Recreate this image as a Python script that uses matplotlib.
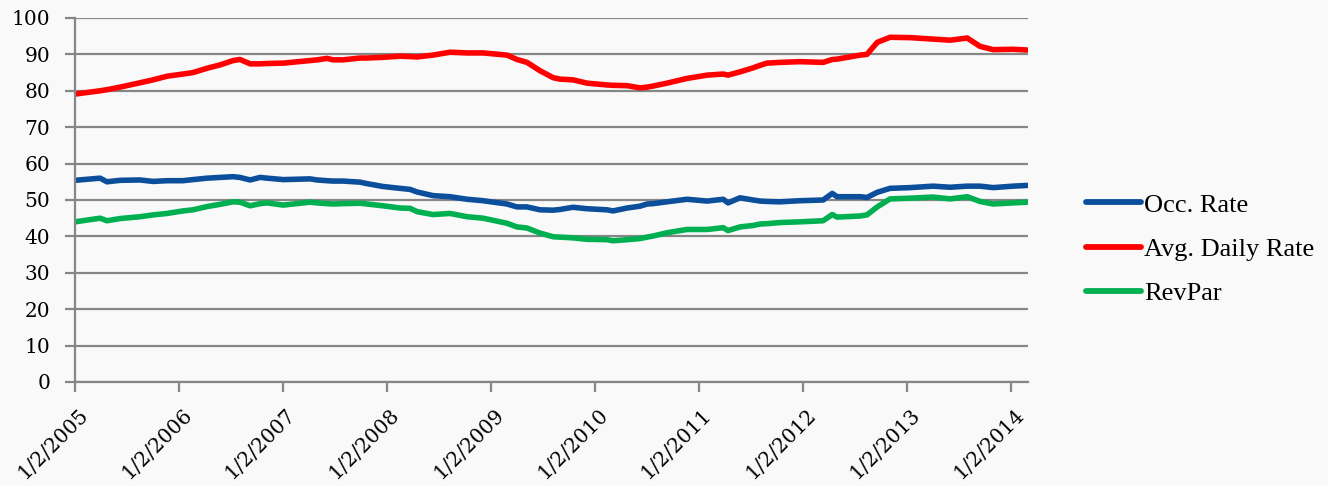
import pandas as pd
import matplotlib.pyplot as plt
import matplotlib.transforms as mtransforms

# 每周数据（约），三个指标
dates = ['2005-01-02', '2005-03-31', '2005-04-24', '2005-06-09', '2005-08-18', '2005-10-03',
         '2005-11-21', '2006-01-16', '2006-02-20', '2006-04-11', '2006-05-26', '2006-07-11',
         '2006-08-04', '2006-09-09', '2006-10-14', '2006-11-07', '2007-01-03', '2007-04-07',
         '2007-05-02', '2007-06-06', '2007-06-27', '2007-08-01', '2007-09-30', '2007-10-24',
         '2007-12-20', '2008-02-17', '2008-03-24', '2008-04-17', '2008-06-12', '2008-08-11',
         '2008-10-10', '2008-12-05', '2009-02-27', '2009-04-03', '2009-05-08', '2009-06-23',
         '2009-08-08', '2009-09-01', '2009-10-17', '2009-12-05', '2010-02-13', '2010-03-06',
         '2010-04-25', '2010-06-09', '2010-07-04', '2010-07-25', '2010-09-12', '2010-11-21',
         '2011-01-31', '2011-03-28', '2011-04-14', '2011-05-26', '2011-07-11', '2011-08-05',
         '2011-08-29', '2011-10-14', '2011-12-23', '2012-03-13', '2012-04-14', '2012-05-01',
         '2012-07-21', '2012-08-14', '2012-09-19', '2012-11-03', '2013-01-13', '2013-04-03',
         '2013-06-02', '2013-08-01', '2013-09-15', '2013-10-31', '2014-01-09', '2014-02-27']

adr = [79.1, 80.0, 80.3, 81.0, 82.2, 83.0, 84.0, 84.6, 85.0, 86.2, 87.1, 88.3,
       88.6, 87.4, 87.4, 87.5, 87.6, 88.3, 88.5, 88.9, 88.5, 88.5, 89.0, 89.0,
       89.2, 89.5, 89.4, 89.3, 89.8, 90.6, 90.4, 90.4, 89.8, 88.6, 87.8, 85.5,
       83.6, 83.2, 83.0, 82.1, 81.6, 81.5, 81.4, 80.8, 81.0, 81.3, 82.1, 83.4,
       84.3, 84.6, 84.3, 85.2, 86.3, 87.0, 87.6, 87.8, 88.0, 87.8, 88.6, 88.7,
       89.8, 90.0, 93.3, 94.7, 94.6, 94.2, 93.9, 94.5, 92.2, 91.3, 91.4, 91.2]

occ = [55.4, 56.0, 55.0, 55.4, 55.5, 55.1, 55.3, 55.3, 55.6, 56.0, 56.2, 56.4,
       56.2, 55.5, 56.2, 56.0, 55.6, 55.8, 55.5, 55.3, 55.2, 55.2, 54.9, 54.5,
       53.7, 53.2, 52.9, 52.2, 51.2, 50.9, 50.2, 49.8, 48.9, 48.1, 48.1, 47.3,
       47.2, 47.4, 48.0, 47.6, 47.3, 47.0, 47.8, 48.3, 48.9, 49.0, 49.5, 50.2,
       49.7, 50.2, 49.2, 50.6, 50.0, 49.7, 49.6, 49.5, 49.8, 50.0, 51.8, 50.9,
       50.9, 50.7, 52.1, 53.2, 53.4, 53.8, 53.5, 53.8, 53.8, 53.4, 53.8, 54.0]

revpar = [44.0, 45.0, 44.3, 44.9, 45.4, 45.9, 46.3, 47.0, 47.3, 48.2, 48.8, 49.5,
          49.4, 48.4, 49.0, 49.2, 48.6, 49.4, 49.2, 49.0, 48.9, 49.0, 49.1, 48.9,
          48.4, 47.8, 47.7, 46.8, 46.0, 46.3, 45.4, 45.0, 43.6, 42.6, 42.3, 40.9,
          39.9, 39.8, 39.6, 39.2, 39.1, 38.8, 39.1, 39.4, 39.8, 40.1, 41.0, 41.9,
          41.9, 42.4, 41.6, 42.6, 43.0, 43.4, 43.5, 43.8, 44.0, 44.3, 46.0, 45.3,
          45.6, 45.9, 48.1, 50.3, 50.5, 50.8, 50.3, 50.9, 49.6, 48.9, 49.2, 49.4]

tick_years = list(range(2005, 2015))

x = pd.to_datetime(dates)
grey = '#868686'

fig = plt.figure(figsize=(13.28, 4.86), dpi=100, facecolor='#f9f9f9')
ax = fig.add_axes([0.0565, 0.214, 0.7175, 0.749])
ax.set_facecolor('#f9f9f9')

ax.plot(x, occ, color='#0b4f9c', lw=4, label='Occ. Rate', solid_capstyle='round')
ax.plot(x, adr, color='#ff0000', lw=4, label='Avg. Daily Rate', solid_capstyle='round')
ax.plot(x, revpar, color='#00b050', lw=4, label='RevPar', solid_capstyle='round')

ax.set_ylim(0, 100)
ax.set_yticks(range(0, 101, 10))
ax.yaxis.grid(True, color=grey, lw=1.6)
ax.set_axisbelow(True)

ticks = pd.to_datetime(['%d-01-02' % y for y in tick_years])
ax.set_xlim(ticks[0], pd.Timestamp('2014-03-02'))
ax.set_xticks(ticks)
ax.set_xticklabels(['1/2/%d' % y for y in tick_years], rotation=45, ha='right',
                   va='top', rotation_mode='anchor')

for s in ['top', 'right']:
    ax.spines[s].set_visible(False)
for s in ['left', 'bottom']:
    ax.spines[s].set_color(grey)
    ax.spines[s].set_linewidth(1.6)

ax.tick_params(axis='both', colors=grey, length=7, width=1.6, labelcolor='black',
               labelsize=14.5)
ax.tick_params(axis='y', pad=11)

# 日期标签往右下挪一点
shift = mtransforms.ScaledTranslation(0.03, -0.08, fig.dpi_scale_trans)
for lab in ax.get_xticklabels():
    lab.set_family('DejaVu Serif')
    lab.set_transform(lab.get_transform() + shift)
for lab in ax.get_yticklabels():
    lab.set_family('DejaVu Serif')

leg = ax.legend(loc='center left', bbox_to_anchor=(1086 / 1328, 1 - 249 / 486),
                bbox_transform=fig.transFigure, frameon=False, borderpad=0,
                borderaxespad=0, handlelength=2.1, handletextpad=0.1,
                labelspacing=0.78, prop={'family': 'Liberation Serif', 'size': 19})
for h in leg.get_lines():
    h.set_linewidth(4.2)

fig.savefig('out.png', dpi=100, facecolor=fig.get_facecolor())
